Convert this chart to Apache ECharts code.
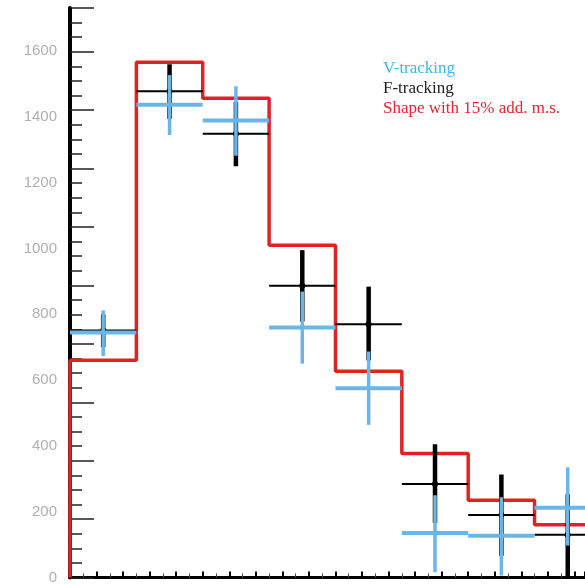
<!DOCTYPE html>
<html><head><meta charset="utf-8">
<script src="https://cdn.jsdelivr.net/npm/echarts@6/dist/echarts.min.js"></script>
<style>html,body{margin:0;padding:0;background:#fff}#c{width:585px;height:585px}</style>
</head><body><div id="c"></div>
<script>
// bins (index 0..7, unit width)
const bins = [0,1,2,3,4,5,6,7];
const shapeValues = [660,1566,1457,1010,627,377,235,160];
// V-tracking: value, low, high
const vVal = [745,1437,1389,760,575,135,127,212];
const vLo  = [673,1345,1282,650,464,16,6,97];
const vHi  = [812,1527,1493,869,687,250,244,335];
// F-tracking: value, low, high
const fVal = [751,1478,1349,887,770,284,190,130];
const fLo  = [700,1394,1250,778,660,166,66,0];
const fHi  = [800,1560,1445,995,884,405,313,253];
const yTicks = [0,200,400,600,800,1000,1200,1400,1600];
const legendTexts = ['V-tracking','F-tracking','Shape with 15% add. m.s.'];

const stepData = [[0,0]];
bins.forEach((b,i)=>{ stepData.push([b, shapeValues[i]]); stepData.push([b+1, shapeValues[i]]); });

function crossRender(color, hw, vw, dot){
  return function(params, api){
    const i = api.value(0), v = api.value(1), lo = api.value(2), hi = api.value(3);
    const a = api.coord([i, v]), b = api.coord([i+1, v]);
    const l = api.coord([i+0.5, lo]), h = api.coord([i+0.5, hi]);
    const children = [
      {type:'line', shape:{x1:l[0],y1:l[1],x2:h[0],y2:h[1]}, style:{stroke:color,lineWidth:vw}},
      {type:'line', shape:{x1:a[0],y1:a[1],x2:b[0],y2:b[1]}, style:{stroke:color,lineWidth:hw}}
    ];
    if(dot){ children.push({type:'circle', shape:{cx:(a[0]+b[0])/2, cy:a[1], r:3}, style:{fill:color}}); }
    return {type:'group', children};
  };
}

const chart = echarts.init(document.getElementById('c'));
chart.setOption({
  animation:false,
  grid:{left:70, right:0, top:8, bottom:3},
  xAxis:[
    {type:'value', min:0, max:7.76, interval:0.4, position:'bottom',
     axisLine:{lineStyle:{color:'#000', width:2}},
     axisTick:{inside:true, length:6, lineStyle:{color:'#000', width:2}},
     minorTick:{show:true, splitNumber:2, length:4, lineStyle:{color:'#444', width:1}},
     axisLabel:{show:false}, splitLine:{show:false}},
    {type:'value', min:0, max:7.76, position:'top',
     axisLine:{lineStyle:{color:'#000', width:3}},
     axisTick:{show:false}, axisLabel:{show:false}, splitLine:{show:false}}
  ],
  yAxis:[
    {type:'value', min:0, max:1731, interval:200, position:'left',
     axisLine:{show:false}, axisTick:{show:false}, splitLine:{show:false},
     axisLabel:{color:'#b0b0b0', fontSize:15, fontFamily:'Liberation Sans', margin:13,
       formatter:function(v){ return yTicks.indexOf(v)>=0 ? String(v) : ''; }}},
    {type:'value', min:0, max:9.75, interval:1, position:'left',
     axisLine:{lineStyle:{color:'#000', width:4}},
     axisTick:{inside:true, length:24, lineStyle:{color:'#222', width:1.5}},
     minorTick:{show:true, splitNumber:4, length:12, lineStyle:{color:'#222', width:1.5}},
     axisLabel:{show:false}, splitLine:{show:false}}
  ],
  series:[
    {type:'line', data:stepData, yAxisIndex:0, symbol:'none', clip:true,
     lineStyle:{color:'#e02222', width:3.5}, z:2},
    {type:'custom', yAxisIndex:0, renderItem:crossRender('#000', 2, 4.5, true),
     data: bins.map((b,i)=>[b, fVal[i], fLo[i], fHi[i]]), z:3},
    {type:'custom', yAxisIndex:0, renderItem:crossRender('#6bb6e6', 4, 3.5, false),
     data: bins.map((b,i)=>[b, vVal[i], vLo[i], vHi[i]]), z:4}
  ],
  graphic:[
    {type:'text', left:383, top:60, style:{text:legendTexts[0], fill:'#3fb4ee', font:'17px "Liberation Serif"'}},
    {type:'text', left:383, top:80, style:{text:legendTexts[1], fill:'#222', font:'17px "Liberation Serif"'}},
    {type:'text', left:383, top:100, style:{text:legendTexts[2], fill:'#e8242c', font:'17px "Liberation Serif"'}}
  ]
});
</script></body></html>
